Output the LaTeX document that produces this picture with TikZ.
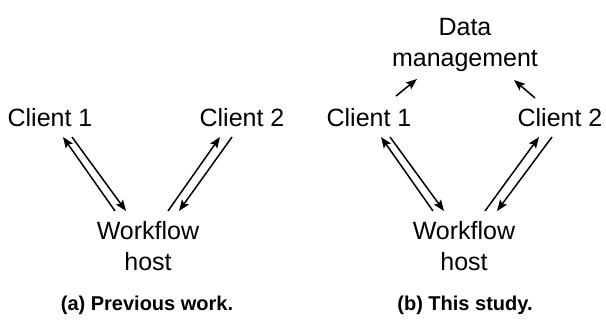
\documentclass[tikz,border=0pt]{standalone}
\usepackage{fontspec}
\setmainfont{Liberation Sans}
\usetikzlibrary{arrows.meta}
\begin{document}
\begin{tikzpicture}[x=1pt,y=-1pt,
  lbl/.style={inner sep=0pt,font=\fontsize{25}{31}\selectfont},
  captext/.style={inner sep=0pt,anchor=base,font=\fontsize{20}{24}\selectfont\bfseries},
  conn/.style={line width=1.5pt,-{Stealth[length=11pt,width=8.5pt,inset=2pt]}}]
\useasboundingbox (0,0) rectangle (606,321);
% ---- (a) previous work
\node[lbl,anchor=base] (ac1) at (50,127) {Client 1};
\node[lbl,anchor=base] (ac2) at (242,127) {Client 2};
\node[lbl,anchor=north,align=center] (awh) at (148,221) {Workflow\\host};
\coordinate (a1s) at (72,137);  \coordinate (a1e) at (126,211);
\coordinate (a2s) at (115,211); \coordinate (a2e) at (63,137);
\coordinate (a3s) at (168,211); \coordinate (a3e) at (220,137);
\coordinate (a4s) at (232,137); \coordinate (a4e) at (179,211);
\draw[conn] (a1s) -- (a1e);
\draw[conn] (a2s) -- (a2e);
\draw[conn] (a3s) -- (a3e);
\draw[conn] (a4s) -- (a4e);
\node[captext] (capa) at (147,310) {(a) Previous work.};
% ---- (b) this study
\node[lbl,anchor=north,align=center] (bdm) at (465,18) {Data\\management};
\node[lbl,anchor=base] (bc1) at (369,127) {Client 1};
\node[lbl,anchor=base] (bc2) at (560,127) {Client 2};
\node[lbl,anchor=north,align=center] (bwh) at (464,221) {Workflow\\host};
\coordinate (b1s) at (390,137); \coordinate (b1e) at (444,211);
\coordinate (b2s) at (433,211); \coordinate (b2e) at (381,137);
\coordinate (b3s) at (485,211); \coordinate (b3e) at (539,137);
\coordinate (b4s) at (552,137); \coordinate (b4e) at (497,211);
\coordinate (b5s) at (396,96);  \coordinate (b5e) at (417,79);
\coordinate (b6s) at (535,98);  \coordinate (b6e) at (514,80);
\draw[conn] (b1s) -- (b1e);
\draw[conn] (b2s) -- (b2e);
\draw[conn] (b3s) -- (b3e);
\draw[conn] (b4s) -- (b4e);
\draw[conn] (b5s) -- (b5e);
\draw[conn] (b6s) -- (b6e);
\node[captext] (capb) at (465,310) {(b) This study.};
\end{tikzpicture}
\end{document}
